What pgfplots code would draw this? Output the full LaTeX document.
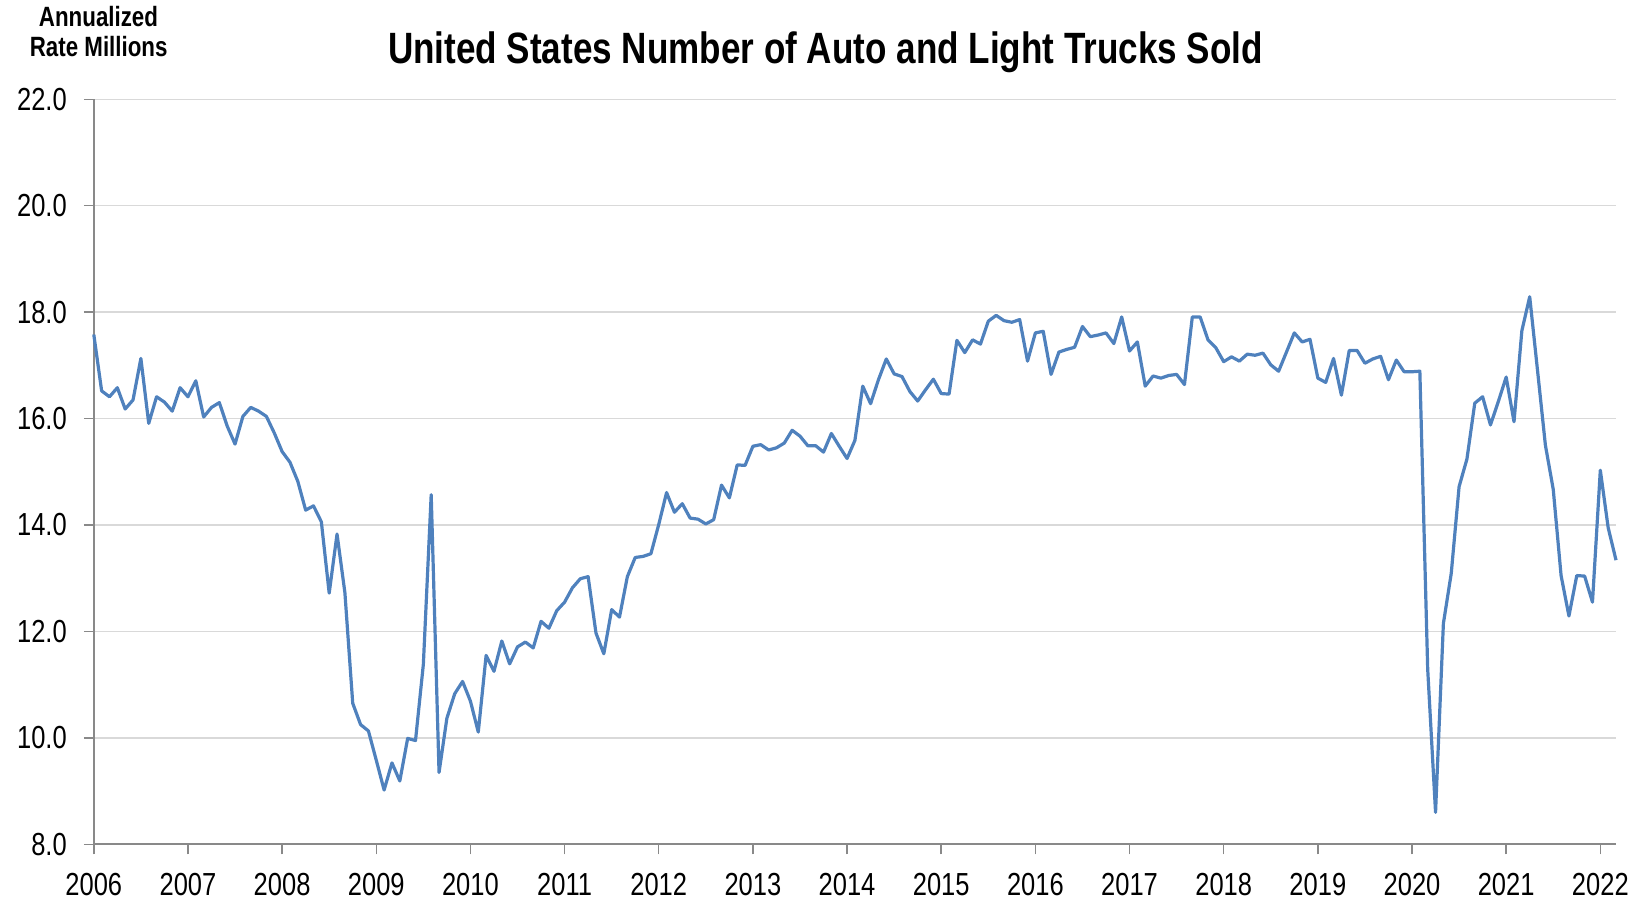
\documentclass[border=0pt]{standalone}
\usepackage{fontspec}
\setmainfont{Liberation Sans}[FakeStretch=0.8]
\usepackage{pgfplots}
\pgfplotsset{compat=1.18}
\definecolor{linec}{HTML}{4F81BD}
\definecolor{gridc}{HTML}{D9D9D9}
\definecolor{axc}{HTML}{898989}
\pgfplotstableread{
i v
0 17.58
1 16.52
2 16.41
3 16.58
4 16.18
5 16.35
6 17.13
7 15.91
8 16.41
9 16.31
10 16.14
11 16.58
12 16.41
13 16.71
14 16.03
15 16.21
16 16.30
17 15.86
18 15.52
19 16.04
20 16.21
21 16.14
22 16.04
23 15.73
24 15.38
25 15.18
26 14.82
27 14.28
28 14.36
29 14.06
30 12.72
31 13.83
32 12.73
33 10.65
34 10.25
35 10.13
36 9.58
37 9.02
38 9.53
39 9.19
40 9.99
41 9.95
42 11.38
43 14.57
44 9.35
45 10.37
46 10.83
47 11.06
48 10.69
49 10.11
50 11.55
51 11.25
52 11.82
53 11.39
54 11.71
55 11.80
56 11.69
57 12.19
58 12.06
59 12.39
60 12.55
61 12.82
62 12.99
63 13.03
64 11.97
65 11.58
66 12.41
67 12.27
68 13.03
69 13.39
70 13.41
71 13.46
72 14.01
73 14.61
74 14.24
75 14.40
76 14.13
77 14.11
78 14.02
79 14.10
80 14.75
81 14.51
82 15.13
83 15.12
84 15.48
85 15.51
86 15.41
87 15.45
88 15.54
89 15.78
90 15.67
91 15.49
92 15.49
93 15.37
94 15.72
95 15.48
96 15.25
97 15.59
98 16.61
99 16.28
100 16.73
101 17.12
102 16.84
103 16.79
104 16.51
105 16.33
106 16.54
107 16.74
108 16.47
109 16.46
110 17.47
111 17.24
112 17.48
113 17.40
114 17.83
115 17.94
116 17.84
117 17.81
118 17.86
119 17.08
120 17.61
121 17.64
122 16.83
123 17.25
124 17.30
125 17.34
126 17.73
127 17.54
128 17.57
129 17.61
130 17.41
131 17.91
132 17.27
133 17.44
134 16.61
135 16.80
136 16.76
137 16.81
138 16.83
139 16.64
140 17.91
141 17.91
142 17.48
143 17.33
144 17.07
145 17.16
146 17.08
147 17.21
148 17.19
149 17.23
150 17.01
151 16.89
152 17.25
153 17.61
154 17.44
155 17.49
156 16.76
157 16.68
158 17.13
159 16.44
160 17.28
161 17.28
162 17.04
163 17.12
164 17.17
165 16.73
166 17.10
167 16.88
168 16.88
169 16.89
170 11.29
171 8.60
172 12.15
173 13.09
174 14.72
175 15.24
176 16.29
177 16.41
178 15.88
179 16.32
180 16.78
181 15.94
182 17.65
183 18.29
184 16.90
185 15.50
186 14.67
187 13.05
188 12.29
189 13.05
190 13.04
191 12.55
192 15.03
193 13.95
194 13.34
}\salesdata
\begin{document}
\begin{tikzpicture}
\path[use as bounding box] (-46.9bp,-28.35bp) rectangle (770.6bp,422.15bp);
\begin{axis}[
  at={(0,0)}, anchor=south west,
  scale only axis, width=761.1bp, height=372.5bp,
  xmin=0, xmax=194, ymin=8, ymax=22,
  xtick={0,12,...,192},
  xticklabels={2006,2007,2008,2009,2010,2011,2012,2013,2014,2015,2016,2017,2018,2019,2020,2021,2022},
  ytick={8,10,...,22},
  yticklabel={\pgfmathprintnumber[fixed,fixed zerofill,precision=1]{\tick}},
  /pgf/number format/assume math mode=true,
  axis x line*=bottom, axis y line*=left,
  ymajorgrids, grid style={gridc, line width=0.75bp},
  axis line style={axc, line width=0.9bp},
  tick style={axc, line width=0.75bp},
  major tick length=5bp,
  tick align=outside,
  tick label style={font=\fontsize{16}{16}\selectfont, black},
  xticklabel style={yshift=-6bp},
  yticklabel style={xshift=-5bp},
  clip=false,
]
\addplot[linec, line width=1.6bp, line join=round] table[x=i, y=v] {\salesdata};
\end{axis}
\node[anchor=base, font=\bfseries\fontsize{22}{22}\selectfont] at (365.85bp,390.5bp) {United States Number of Auto and Light Trucks Sold};
\node[anchor=base, font=\bfseries\fontsize{14}{14}\selectfont] at (2.35bp,408.8bp) {Annualized};
\node[anchor=base, font=\bfseries\fontsize{14}{14}\selectfont] at (2.45bp,393.8bp) {Rate Millions};
\end{tikzpicture}
\end{document}
